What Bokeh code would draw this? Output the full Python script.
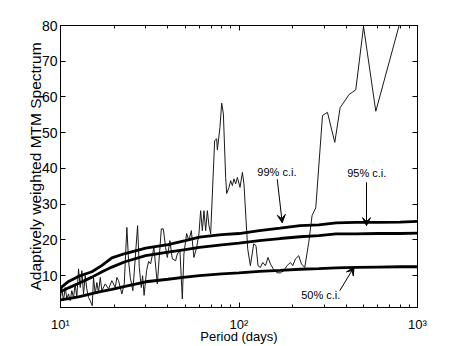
from bokeh.plotting import figure
from bokeh.models import (LogAxis, LinearAxis, FixedTicker, Range1d, Arrow,
                          VeeHead, Label)
from bokeh.embed import file_html
from bokeh.resources import INLINE

# ---- data ----
spec_period = [10.0, 10.17, 10.39, 10.63, 10.85, 11.09, 11.33, 11.57, 11.83, 12.09,
               12.34, 12.62, 12.90, 13.17, 13.46, 13.76, 14.04, 14.36, 14.67, 15.06,
               15.31, 15.65, 15.98, 16.33, 16.70, 17.05, 17.81, 18.59, 19.40, 20.27,
               20.69, 21.15, 22.07, 22.76, 23.54, 24.06, 24.60, 25.44, 26.24, 27.03,
               27.63, 28.35, 28.83, 29.40, 30.36, 31.15, 31.97, 33.36, 34.86, 36.71,
               37.67, 38.80, 39.66, 41.02, 42.31, 44.15, 45.13, 46.67, 48.14, 49.14,
               50.89, 52.42, 54.07, 55.92, 57.90, 59.65, 60.97, 62.33, 63.63, 65.04,
               66.48, 67.87, 69.38, 73.05, 74.97, 75.65, 78.23, 79.97, 81.74, 84.20,
               85.30, 87.87, 89.82, 91.81, 93.73, 95.81, 97.94, 101.3, 104.5, 106.6,
               111.9, 115.8, 120.9, 124.5, 127.8, 131.8, 135.8, 140.6, 145.4, 150.0,
               155.1, 163.3, 170.6, 178.1, 185.8, 194.2, 200.0, 207.1, 216.1, 223.8,
               233.5, 245.9, 256.6, 269.2, 293.6, 313.0, 344.0, 368.6, 414.0, 451.0,
               498.5, 584.0, 789.0, 1000.0]
spec_value = [3.9, 6.7, 3.0, 6.7, 3.5, 4.9, 3.0, 5.8, 3.9, 7.7,
              3.9, 11.9, 6.7, 11.4, 4.9, 10.0, 6.3, 3.9, 3.0, 1.6,
              9.5, 4.9, 8.1, 5.3, 9.5, 5.8, 7.7, 6.3, 8.6, 6.7,
              9.5, 8.6, 4.9, 7.7, 23.5, 14.2, 9.5, 5.8, 15.1, 24.0,
              12.3, 6.7, 10.0, 4.5, 11.4, 14.0, 13.3, 17.9, 7.7, 23.1,
              23.1, 17.9, 15.1, 19.8, 14.7, 14.2, 16.1, 17.0, 3.5, 16.1,
              21.8, 19.8, 22.6, 15.1, 17.9, 21.7, 28.2, 22.6, 28.2, 22.6,
              28.2, 24.0, 21.7, 47.8, 48.3, 45.2, 51.5, 58.3, 55.3, 37.5,
              33.0, 34.7, 36.6, 35.2, 37.1, 35.7, 37.5, 34.7, 38.9, 35.7,
              17.5, 12.8, 18.9, 18.4, 12.8, 12.3, 13.7, 12.8, 15.1, 13.3,
              12.0, 10.8, 10.8, 11.4, 12.8, 13.7, 12.8, 14.7, 15.6, 13.3,
              12.3, 19.3, 26.8, 29.0, 54.8, 55.7, 47.3, 57.0, 60.7, 62.0,
              79.7, 56.0, 80.0, 100.0]

ci_period = [10, 11.1, 12.6, 15, 17, 19.4, 23, 30, 40, 50, 60, 80, 100, 130, 170,
             220, 280, 350, 450, 600, 800, 1000]
ci99 = [6.6, 8.4, 9.8, 11.1, 12.8, 15.0, 16.2, 17.7, 18.7, 19.8, 20.8, 21.5, 21.8,
        22.6, 23.3, 24.0, 24.2, 24.8, 24.9, 24.9, 25.0, 25.2]
ci95 = [5.5, 6.6, 7.8, 9.6, 11.0, 12.4, 13.9, 15.6, 16.6, 17.3, 17.9, 18.6, 19.1,
        19.8, 20.4, 20.9, 21.2, 21.7, 21.7, 21.8, 21.8, 21.9]
ci50 = [3.2, 3.6, 4.1, 5.0, 5.6, 6.2, 7.0, 8.3, 9.0, 9.6, 10.0, 10.5, 10.8, 11.2,
        11.5, 11.8, 12.0, 12.2, 12.3, 12.4, 12.5, 12.5]

x_ticks = [10, 100, 1000]
x_tick_labels = ["10\u00b9", "10\u00b2", "10\u00b3"]
x_minor = [20, 30, 40, 50, 60, 70, 80, 90, 200, 300, 400, 500, 600, 700, 800, 900]
y_ticks = [10, 20, 30, 40, 50, 60, 70, 80]

ann_text = ["99% c.i.", "95% c.i.", "50% c.i."]
ann_text_pos = [(163, 37.4), (520, 37.0), (287, 4.7)]
ann_arrow = [((163.8, 37.0), (174.6, 24.8)),
             ((518, 36.1), (518, 24.0)),
             ((367, 5.8), (441, 12.4))]

FONT = "Liberation Sans"

p = figure(x_axis_type="log", x_range=Range1d(10, 1000), y_range=Range1d(1.1, 80),
           frame_width=357, frame_height=282,
           min_border_left=60, min_border_right=30, min_border_top=25,
           min_border_bottom=10,
           output_backend="svg", toolbar_location=None)
p.background_fill_color = "white"
p.border_fill_color = "white"
p.outline_line_color = "black"
p.outline_line_width = 1
p.xgrid.visible = False
p.ygrid.visible = False

xt = FixedTicker(ticks=x_ticks, minor_ticks=x_minor)
yt = FixedTicker(ticks=y_ticks)


def style(ax, labels=True):
    ax.axis_line_color = "black"
    ax.major_tick_in = 5
    ax.major_tick_out = 0
    ax.minor_tick_in = 3
    ax.minor_tick_out = 0
    ax.major_tick_line_color = "black"
    ax.minor_tick_line_color = "black"
    ax.major_label_text_font = FONT
    ax.major_label_text_font_size = "13px"
    ax.major_label_text_color = "black"
    ax.axis_label_text_font = FONT
    ax.axis_label_text_font_style = "normal"
    ax.axis_label_text_color = "black"
    if not labels:
        ax.major_label_text_color = None
        ax.major_label_standoff = 0


xa = p.xaxis[0]
xa.ticker = xt
xa.major_label_overrides = {t: l for t, l in zip(x_ticks, x_tick_labels)}
style(xa)
xa.axis_label = "Period (days)"
xa.axis_label_text_font_size = "13px"
xa.major_label_standoff = 9
xa.axis_label_standoff = -6

ya = p.yaxis[0]
ya.ticker = yt
style(ya)
ya.major_label_text_font_size = "14px"
ya.axis_label = "Adaptively weighted MTM Spectrum"
ya.axis_label_text_font_size = "15.5px"
ya.major_label_standoff = 3
ya.axis_label_standoff = -5

top = LogAxis(ticker=xt)
style(top, labels=False)
p.add_layout(top, "above")
right = LinearAxis(ticker=yt)
style(right, labels=False)
p.add_layout(right, "right")

p.line(spec_period, spec_value, line_color="#1a1a1a", line_width=1)
for ci in (ci99, ci95, ci50):
    p.line(ci_period, ci, line_color="black", line_width=2.8)

aligns = ["center", "center", "center"]
bases = ["bottom", "bottom", "middle"]
for t, (tx, ty), al, bl in zip(ann_text, ann_text_pos, aligns, bases):
    p.add_layout(Label(x=tx, y=ty, text=t, text_align=al, text_baseline=bl,
                       text_font=FONT, text_font_size="11px", text_color="black"))
for (s, e) in ann_arrow:
    p.add_layout(Arrow(end=VeeHead(size=8, fill_color="black", line_color="black",
                                   line_width=1),
                       x_start=s[0], y_start=s[1], x_end=e[0], y_end=e[1],
                       line_color="black", line_width=1))

open("out.html", "w").write(file_html(p, INLINE))
